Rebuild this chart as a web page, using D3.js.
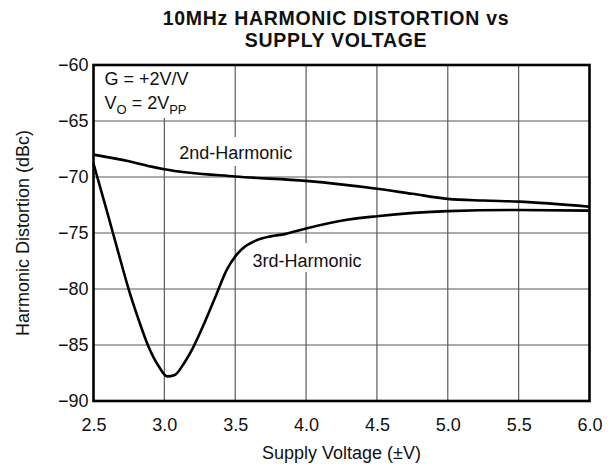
<!DOCTYPE html>
<html>
<head>
<meta charset="utf-8">
<script src="https://cdn.jsdelivr.net/npm/d3@7"></script>
<style>
  body { margin: 0; background: #fff; }
  text { font-family: "Liberation Sans", Arial, Helvetica, sans-serif; fill: #111; }
</style>
</head>
<body>
<div id="chart"></div>
<script>
// supply voltage (±V) vs harmonic distortion (dBc)
const supply2nd = [2.5, 2.75, 2.9, 3.0, 3.5, 4.0, 4.5, 4.75, 5.0, 5.25, 5.5, 6.0]
const hd2 = [-68.0, -68.6, -69.05, -69.3, -69.95, -70.35, -71.05, -71.5, -71.95, -72.1, -72.2, -72.65]

const supply3rd = [2.5, 2.6, 2.67, 2.75, 2.82, 2.89, 2.96, 3.02, 3.07, 3.14, 3.2, 3.27, 3.37, 3.44, 3.5, 3.55, 3.65, 3.75, 3.85, 4.0, 4.3, 4.5, 5.0, 5.5, 6.0]
const hd3 = [-68.8, -73.3, -76.5, -80.1, -82.8, -85.2, -86.9, -87.8, -87.7, -86.6, -85.3, -83.4, -80.4, -78.3, -77.1, -76.4, -75.65, -75.3, -75.1, -74.6, -73.8, -73.5, -73.05, -72.95, -73.0]

const xTicks = [2.5, 3.0, 3.5, 4.0, 4.5, 5.0, 5.5, 6.0]
const yTicks = [-60, -65, -70, -75, -80, -85, -90]

const titleLines = ['10MHz HARMONIC DISTORTION vs', 'SUPPLY VOLTAGE']

const W = 613, H = 468
const margin = {top: 65, right: 23.5, bottom: 67, left: 93.5}
const width = W - margin.left - margin.right
const height = H - margin.top - margin.bottom

const x = d3.scaleLinear().domain([2.5, 6.0]).range([0, width])
const y = d3.scaleLinear().domain([-90, -60]).range([height, 0])

const svg = d3.select('#chart').append('svg')
  .attr('width', W)
  .attr('height', H)

svg.append('g')
  .attr('transform', 'translate(336, 0)')
  .selectAll('text').data(titleLines)
  .enter().append('text')
  .attr('y', (d, i) => 25 + i * 22)
  .attr('text-anchor', 'middle')
  .style('font-weight', 'bold')
  .style('font-size', '19.5px')
  .style('letter-spacing', '0.7px')
  .text(d => d)

const g = svg.append('g')
  .attr('transform', `translate(${margin.left}, ${margin.top})`)

// grid
g.append('g').selectAll('line').data(xTicks.slice(1, -1))
  .enter().append('line')
  .attr('x1', d => x(d)).attr('x2', d => x(d))
  .attr('y1', 0).attr('y2', height)
  .attr('stroke', '#5a5a5a').attr('stroke-width', 1.2)
g.append('g').selectAll('line').data(yTicks.slice(1, -1))
  .enter().append('line')
  .attr('x1', 0).attr('x2', width)
  .attr('y1', d => y(d)).attr('y2', d => y(d))
  .attr('stroke', '#5a5a5a').attr('stroke-width', 1.2)

// axes (labels only)
const xAxis = d3.axisBottom(x).tickValues(xTicks).tickFormat(d3.format('.1f')).tickSize(0).tickPadding(17)
const yAxis = d3.axisLeft(y).tickValues(yTicks).tickSize(0).tickPadding(5)

g.append('g')
  .attr('transform', `translate(0, ${height})`)
  .call(xAxis)
  .call(a => a.select('.domain').remove())
  .selectAll('text').style('font-size', '18px').attr('fill', '#111')
g.append('g')
  .call(yAxis)
  .call(a => a.select('.domain').remove())
  .selectAll('text').style('font-size', '18px').attr('fill', '#111')

// white boxes behind the labels hide the grid
const labelBox = (bx, by, bw, bh) => g.append('rect')
  .attr('x', bx).attr('y', by).attr('width', bw).attr('height', bh)
  .attr('fill', '#fff')

labelBox(0, 0, 98, 53)
const t = g.append('g').style('font-size', '18px')
t.append('text').attr('x', 11).attr('y', 20).text('G = +2V/V')
const vo = t.append('text').attr('x', 11).attr('y', 43.5)
vo.append('tspan').text('V')
vo.append('tspan').attr('dy', 5).style('font-size', '13px').text('O')
vo.append('tspan').attr('dy', -5).text(' = 2V')
vo.append('tspan').attr('dy', 5).style('font-size', '13px').text('PP')

const line = d3.line()
  .x(d => x(d[0]))
  .y(d => y(d[1]))
  .curve(d3.curveMonotoneX)

labelBox(x(3.08), 72, 126, 29)
g.append('text').attr('x', x(3.08) + 3.5).attr('y', 94.3).style('font-size', '18px').text('2nd-Harmonic')
labelBox(x(3.6), 178, 126, 29)
g.append('text').attr('x', x(3.6) + 3).attr('y', 201.7).style('font-size', '18px').text('3rd-Harmonic')

g.append('path')
  .datum(d3.zip(supply2nd, hd2))
  .attr('d', line)
  .attr('fill', 'none')
  .attr('stroke', '#000')
  .attr('stroke-width', 2.6)
g.append('path')
  .datum(d3.zip(supply3rd, hd3))
  .attr('d', line)
  .attr('fill', 'none')
  .attr('stroke', '#000')
  .attr('stroke-width', 2.6)

g.append('rect')
  .attr('width', width).attr('height', height)
  .attr('fill', 'none')
  .attr('stroke', '#000')
  .attr('stroke-width', 2.6)

svg.append('text')
  .attr('x', margin.left + width / 2)
  .attr('y', 459)
  .attr('text-anchor', 'middle')
  .style('font-size', '18px')
  .text('Supply Voltage (±V)')

svg.append('text')
  .attr('transform', `translate(29, ${margin.top + height / 2}) rotate(-90)`)
  .attr('text-anchor', 'middle')
  .style('font-size', '18px')
  .text('Harmonic Distortion (dBc)')
</script>
</body>
</html>
